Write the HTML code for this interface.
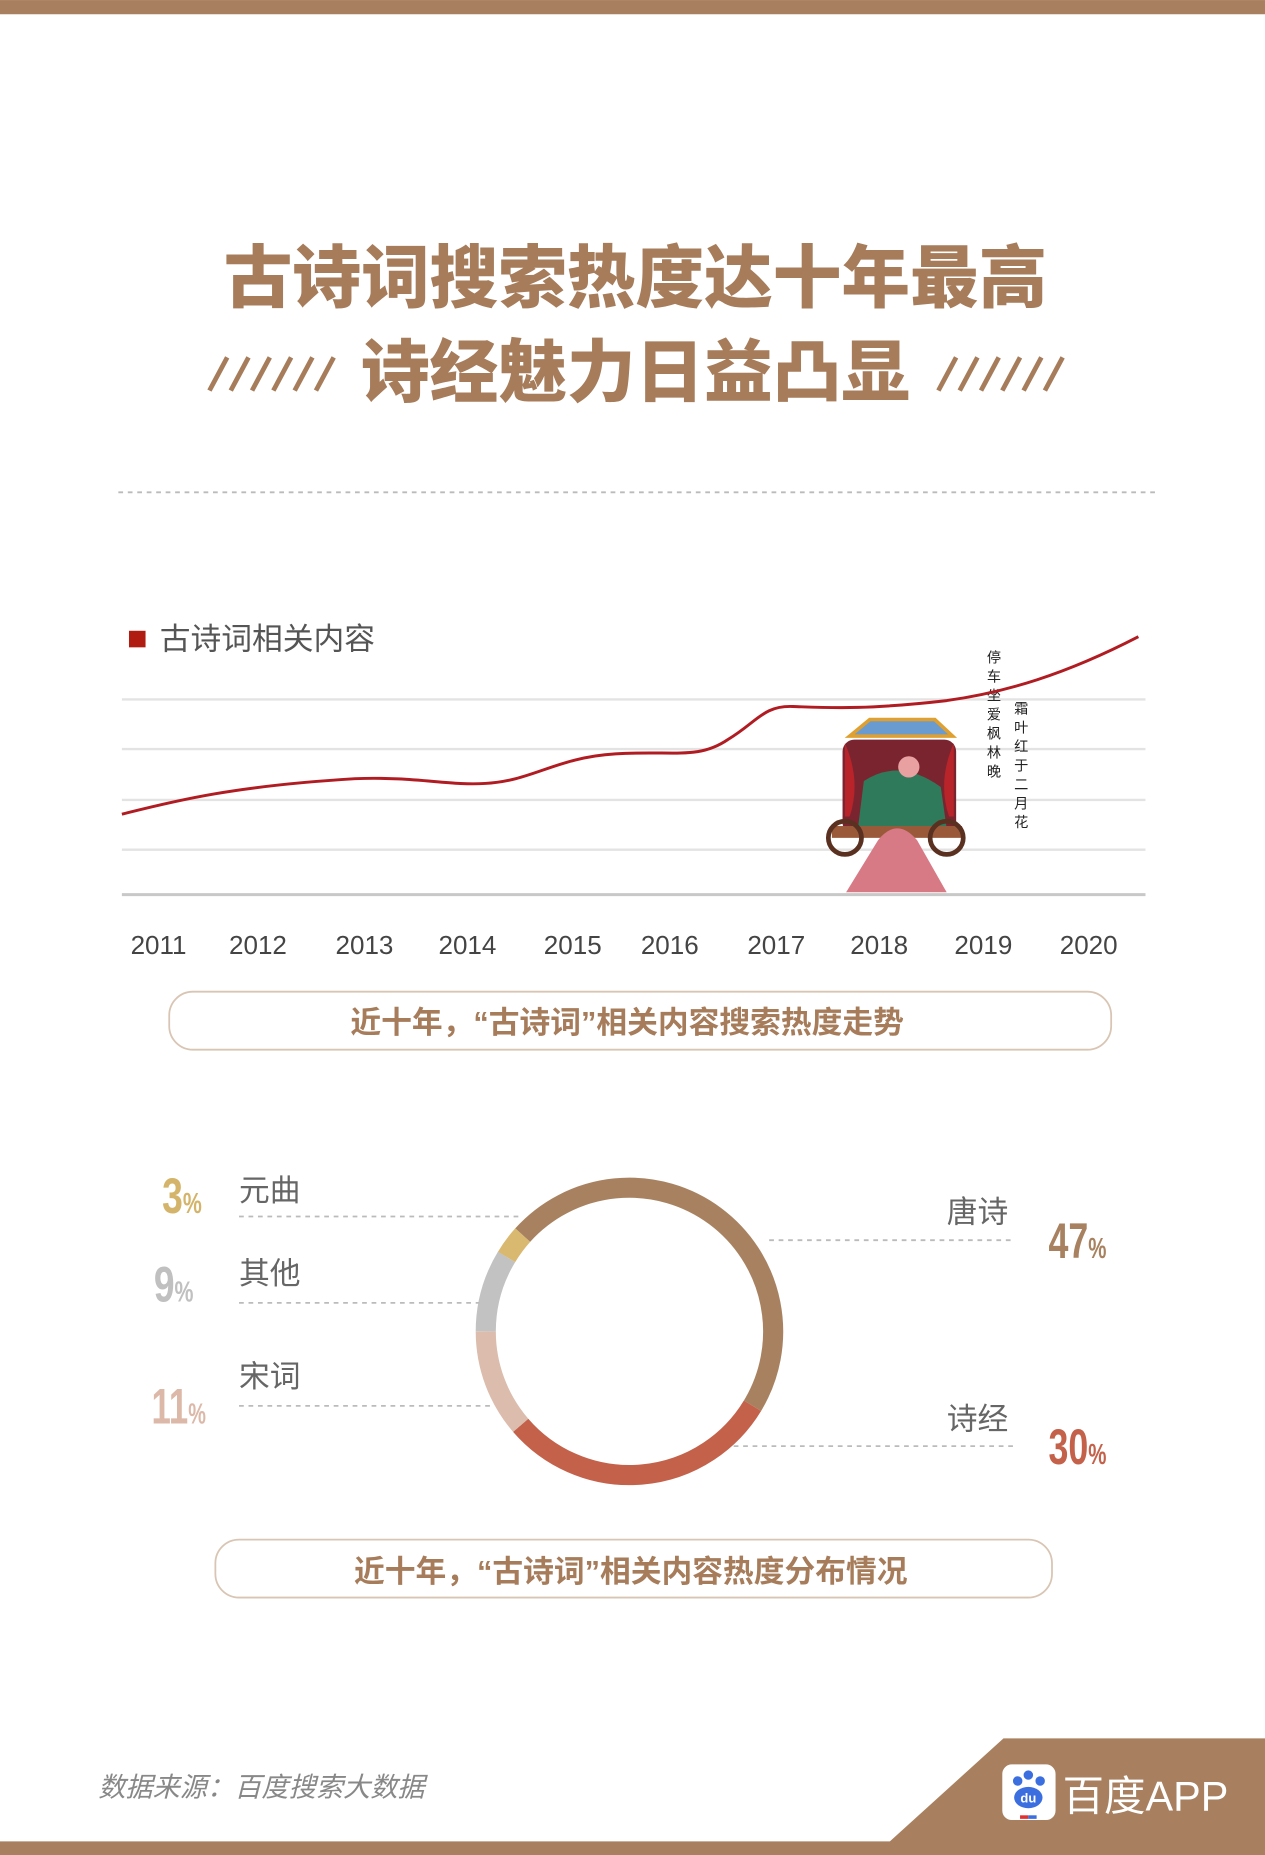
<!DOCTYPE html>
<html><head><meta charset="utf-8"><style>
html,body{margin:0;padding:0;background:#fff;}
svg{display:block;}
text{font-family:"Liberation Sans","Noto Sans CJK SC",sans-serif;}
.big{font-family:"Liberation Sans","Noto Sans CJK SC",sans-serif;font-weight:900;}
.num{font-family:"Liberation Sans",sans-serif;font-weight:bold;}
</style></head><body>
<svg width="1265" height="1855" viewBox="0 0 1069 1567.5" xmlns="http://www.w3.org/2000/svg">
<rect x="0" y="0" width="1069" height="12" fill="#a8805f"/>
<text x="537" y="255" text-anchor="middle" font-size="58" fill="#a67c5a" class="big" font-weight="900">古诗词搜索热度达十年最高</text>
<text x="537" y="335" text-anchor="middle" font-size="58" fill="#a67c5a" class="big" font-weight="900">诗经魅力日益凸显</text>
<g stroke="#a67c5a" stroke-width="4">
<line x1="177" y1="330" x2="192" y2="302"/><line x1="195" y1="330" x2="210" y2="302"/><line x1="213" y1="330" x2="228" y2="302"/><line x1="231" y1="330" x2="246" y2="302"/><line x1="249" y1="330" x2="264" y2="302"/><line x1="267" y1="330" x2="282" y2="302"/>
<line x1="793" y1="330" x2="808" y2="302"/><line x1="811" y1="330" x2="826" y2="302"/><line x1="829" y1="330" x2="844" y2="302"/><line x1="847" y1="330" x2="862" y2="302"/><line x1="865" y1="330" x2="880" y2="302"/><line x1="883" y1="330" x2="898" y2="302"/>
</g>
<line x1="100" y1="416" x2="977" y2="416" stroke="#bbb" stroke-width="1.5" stroke-dasharray="4,4"/>
<rect x="109" y="533" width="14" height="14" fill="#b01c12"/>
<text x="135" y="549" font-size="26" fill="#555">古诗词相关内容</text>
<g stroke="#e3e3e3" stroke-width="2">
<line x1="103" y1="591" x2="968" y2="591"/><line x1="103" y1="633" x2="968" y2="633"/><line x1="103" y1="676" x2="968" y2="676"/><line x1="103" y1="718" x2="968" y2="718"/>
</g>
<line x1="103" y1="756" x2="968" y2="756" stroke="#c8c8c8" stroke-width="2.5"/>
<g>
<path d="M718 622 L735 608 L790 608 L805 622 Z" fill="#6a9bd0" stroke="#e0a030" stroke-width="3"/>
<rect x="712" y="625" width="96" height="80" rx="10" fill="#7a2430"/>
<path d="M714 628 Q728 660 718 690 L714 690 Z" fill="#b8242a"/>
<path d="M806 628 Q792 660 802 690 L806 690 Z" fill="#b8242a"/>
<path d="M730 660 Q760 640 795 665 L800 700 L725 700 Z" fill="#2f7a5a"/>
<circle cx="768" cy="648" r="9" fill="#e8a0a0"/>
<rect x="703" y="698" width="110" height="10" fill="#9a5a3a"/>
<circle cx="714" cy="708" r="14" fill="none" stroke="#5a3020" stroke-width="4"/>
<circle cx="800" cy="708" r="14" fill="none" stroke="#5a3020" stroke-width="4"/>
<path d="M742 710 Q758 690 775 710 L800 754 L715 754 Z" fill="#d77a86"/>
</g>
<g font-size="12" fill="#222" font-family="'Noto Serif CJK SC',serif">
<text x="834" y="560">停</text><text x="834" y="576">车</text><text x="834" y="592">坐</text><text x="834" y="608">爱</text><text x="834" y="624">枫</text><text x="834" y="640">林</text><text x="834" y="656">晚</text>
<text x="857" y="603">霜</text><text x="857" y="619">叶</text><text x="857" y="635">红</text><text x="857" y="651">于</text><text x="857" y="667">二</text><text x="857" y="683">月</text><text x="857" y="699">花</text>
</g>
<path d="M103 688 C150 676 200 664 300 658 C350 656 380 664 410 662 C450 660 470 640 520 637 C570 634 590 642 615 625 C640 610 645 596 670 597 C700 598 730 600 800 592 C850 585 900 570 962 538" fill="none" stroke="#b01c22" stroke-width="2.5"/>
<g font-size="22" fill="#444" text-anchor="middle">
<text x="134" y="806">2011</text><text x="218" y="806">2012</text><text x="308" y="806">2013</text><text x="395" y="806">2014</text><text x="484" y="806">2015</text><text x="566" y="806">2016</text><text x="656" y="806">2017</text><text x="743" y="806">2018</text><text x="831" y="806">2019</text><text x="920" y="806">2020</text>
</g>
<rect x="143" y="838" width="796" height="49" rx="20" fill="none" stroke="#d9c5b3" stroke-width="1.5"/>
<text x="530" y="873" text-anchor="middle" font-size="26" fill="#a67c5a" font-weight="bold">近十年，“古诗词”相关内容搜索热度走势</text>
<g fill="none" stroke-width="17">
<path d="M441.7 1043.7 A121.5 121.5 0 0 1 635.9 1187.9" stroke="#a88260"/>
<path d="M635.9 1187.9 A121.5 121.5 0 0 1 440.0 1204.4" stroke="#c4614a"/>
<path d="M440.0 1204.4 A121.5 121.5 0 0 1 410.5 1125" stroke="#dcbcac"/>
<path d="M410.5 1125 A121.5 121.5 0 0 1 428.1 1062.1" stroke="#c2c2c2"/>
<path d="M428.1 1062.1 A121.5 121.5 0 0 1 441.7 1043.7" stroke="#d9b870"/>
</g>
<g stroke="#bbb" stroke-width="1.5" stroke-dasharray="4,4">
<line x1="202" y1="1028" x2="440" y2="1028"/>
<line x1="202" y1="1101" x2="405" y2="1101"/>
<line x1="202" y1="1188" x2="415" y2="1188"/>
<line x1="650" y1="1048" x2="858" y2="1048"/>
<line x1="620" y1="1222" x2="858" y2="1222"/>
</g>
<g font-size="26" fill="#666">
<text x="202" y="1015">元曲</text><text x="202" y="1085">其他</text><text x="202" y="1172">宋词</text>
<text x="852" y="1033" text-anchor="end">唐诗</text><text x="852" y="1208" text-anchor="end">诗经</text>
</g>
<g class="num">
<text x="137" y="1025" font-size="42" fill="#d4b46a" transform="translate(137 0) scale(0.75 1) translate(-137 0)">3<tspan font-size="24">%</tspan></text>
<text x="130" y="1100" font-size="42" fill="#c0c0c0" transform="translate(130 0) scale(0.75 1) translate(-130 0)">9<tspan font-size="24">%</tspan></text>
<text x="128" y="1203" font-size="42" fill="#dcb8a8" transform="translate(128 0) scale(0.7 1) translate(-128 0)">11<tspan font-size="24">%</tspan></text>
<text x="886" y="1063" font-size="42" fill="#a88260" transform="translate(886 0) scale(0.72 1) translate(-886 0)">47<tspan font-size="24">%</tspan></text>
<text x="886" y="1237" font-size="42" fill="#c4614a" transform="translate(886 0) scale(0.72 1) translate(-886 0)">30<tspan font-size="24">%</tspan></text>
</g>
<rect x="182" y="1301" width="707" height="49" rx="20" fill="none" stroke="#d9c5b3" stroke-width="1.5"/>
<text x="533" y="1337" text-anchor="middle" font-size="26" fill="#a67c5a" font-weight="bold">近十年，“古诗词”相关内容热度分布情况</text>
<text x="83" y="1518" font-size="23" fill="#888" font-style="italic">数据来源：百度搜索大数据</text>
<polygon points="848,1469 1069,1469 1069,1568 0,1568 0,1556 752,1556" fill="#a8805f"/>
<rect x="847" y="1491" width="45" height="47" rx="8" fill="#fff"/>
<g fill="#3b6fe0">
<circle cx="860" cy="1505" r="4"/><circle cx="869" cy="1500" r="4"/><circle cx="879" cy="1505" r="4"/>
<ellipse cx="869" cy="1519" rx="12" ry="9"/>
</g>
<text x="869" y="1523" text-anchor="middle" font-size="11" fill="#fff" font-weight="bold">du</text>
<rect x="862" y="1534" width="7" height="3" fill="#e03030"/><rect x="869" y="1534" width="7" height="3" fill="#3b6fe0"/>
<text x="898" y="1530" font-size="35" fill="#fff">百度APP</text>
</svg>
</body></html>
